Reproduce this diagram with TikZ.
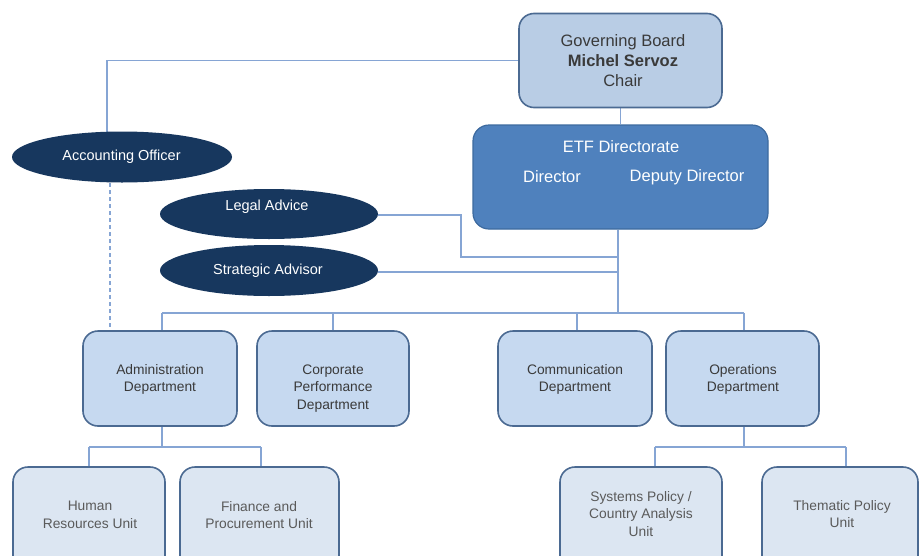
\documentclass[tikz,border=0pt]{standalone}
\usepackage{fontspec}
\setmainfont{Liberation Sans}
\usetikzlibrary{shapes.geometric,backgrounds}
\definecolor{navy}{HTML}{17375E}
\definecolor{etffill}{HTML}{4F81BD}
\definecolor{etfdraw}{HTML}{3D6A9F}
\definecolor{boardfill}{HTML}{B9CDE5}
\definecolor{boxdraw}{HTML}{4B6A92}
\definecolor{deptfill}{HTML}{C6D9F0}
\definecolor{unitfill}{HTML}{DCE6F2}
\definecolor{linecol}{HTML}{86A5D4}
\definecolor{txtdark}{HTML}{3A3A3A}
\definecolor{txtunit}{HTML}{5A5A5A}
\tikzset{
  rbox/.style={draw=boxdraw, line width=1.6pt, rounded corners=15pt, inner sep=0pt},
  boardbox/.style={rbox, fill=boardfill},
  etfbox/.style={draw=etfdraw, line width=1.2pt, fill=etffill, rounded corners=16pt, inner sep=0pt},
  deptbox/.style={rbox, fill=deptfill},
  unitbox/.style={rbox, fill=unitfill},
  oval/.style={ellipse, fill=navy, draw=none, inner sep=0pt},
  bigtxt/.style={font=\fontsize{16.5}{20}\selectfont, align=center, inner sep=0pt},
  depttxt/.style={font=\fontsize{13.8}{17.5}\selectfont, text=txtdark, align=center, inner sep=0pt},
  unittxt/.style={font=\fontsize{13.8}{17.5}\selectfont, text=txtunit, align=center, inner sep=0pt},
  ovaltxt/.style={font=\fontsize{14.5}{17}\selectfont, text=white, inner sep=0pt},
  conn/.style={draw=linecol, line width=1.3pt},
  dotconn/.style={conn, dashed, dash pattern=on 4pt off 3pt}
}
\begin{document}
\begin{tikzpicture}[x=1pt,y=-1pt]
\useasboundingbox (0,0) rectangle (919,555);
\clip (0,0) rectangle (919,555);
% boxes
\node[boardbox, minimum width=203pt, minimum height=94pt] (board) at (620.5,60.5) {};
\node[bigtxt, text=txtdark] (boardt) at (623,61) {Governing Board\\\textbf{Michel Servoz}\\Chair};
\node[etfbox, minimum width=295pt, minimum height=104pt] (etf) at (620.5,177) {};
\node[bigtxt, text=white] (etft) at (621,147) {ETF Directorate};
\node[bigtxt, text=white] (dir) at (552,177) {Director};
\node[bigtxt, text=white] (dep) at (687,177) {Deputy Director};
% ellipses
\node[oval, minimum width=220pt, minimum height=51pt] (acc) at (122,157) {};
\node[ovaltxt] (acct) at (121.5,157) {Accounting Officer};
\node[oval, minimum width=218pt, minimum height=50pt] (legal) at (269,214) {};
\node[ovaltxt] (legalt) at (267,207) {Legal Advice};
\node[oval, minimum width=218pt, minimum height=51pt] (strat) at (269,270.5) {};
\node[ovaltxt] (stratt) at (268,271) {Strategic Advisor};
% departments
\node[deptbox, minimum width=154pt, minimum height=95pt] (admin) at (160,378.5) {};
\node[depttxt] (admint) at (160,379.5) {Administration\\Department};
\node[deptbox, minimum width=152pt, minimum height=95pt] (corp) at (333,378.5) {};
\node[depttxt] (corpt) at (333,388.5) {Corporate\\Performance\\Department};
\node[deptbox, minimum width=154pt, minimum height=95pt] (comm) at (575,378.5) {};
\node[depttxt] (commt) at (575,379.5) {Communication\\Department};
\node[deptbox, minimum width=153pt, minimum height=95pt] (ops) at (742.5,378.5) {};
\node[depttxt] (opst) at (743,379.5) {Operations\\Department};
% units
\node[unitbox, minimum width=152pt, minimum height=113pt] (hr) at (89,523.5) {};
\node[unittxt] (hrt) at (90,515) {Human\\Resources Unit};
\node[unitbox, minimum width=159pt, minimum height=113pt] (fin) at (259.5,523.5) {};
\node[unittxt] (fint) at (259,515) {Finance and\\Procurement Unit};
\node[unitbox, minimum width=162pt, minimum height=113pt] (sys) at (641,523.5) {};
\node[unittxt] (syst) at (641,514) {Systems Policy /\\Country Analysis\\Unit};
\node[unitbox, minimum width=156pt, minimum height=113pt] (them) at (840,523.5) {};
\node[unittxt] (themt) at (842,514) {Thematic Policy\\Unit};
% connector points
\coordinate (hub) at (618,313);
\coordinate (accTop) at (107,157);
\coordinate (accBot) at (110,183);
\coordinate (legalBend) at (461,215);
\coordinate (legalJoin) at (618,257);
\coordinate (stratJoin) at (618,272);
\coordinate (busL) at (162,313);
\coordinate (busCorp) at (333,313);
\coordinate (busComm) at (577,313);
\coordinate (busR) at (744,313);
\coordinate (adminBus) at (162,447);
\coordinate (hrDrop) at (89,447);
\coordinate (finDrop) at (261,447);
\coordinate (opsBus) at (744,447);
\coordinate (sysDrop) at (655,447);
\coordinate (themDrop) at (846,447);
\begin{pgfonlayer}{background}
\fill[white] (0,0) rectangle (919,555);
\draw[conn] (board.south) -- (etf.north);
\draw[conn] (board.west) -| (accTop);
\draw[dotconn] (accBot) -- (accBot |- admin.north);
\draw[conn] (legal.east |- legalBend) -- (legalBend) |- (legalJoin);
\draw[conn] (strat.east |- stratJoin) -- (stratJoin);
\draw[conn] (hub |- etf.south) -- (hub);
\draw[conn] (busL) -- (busR);
\draw[conn] (busL) -- (busL |- admin.north);
\draw[conn] (busCorp) -- (busCorp |- corp.north);
\draw[conn] (busComm) -- (busComm |- comm.north);
\draw[conn] (busR) -- (busR |- ops.north);
\draw[conn] (adminBus |- admin.south) -- (adminBus);
\draw[conn] (hrDrop) -- (finDrop);
\draw[conn] (hrDrop) -- (hrDrop |- hr.north);
\draw[conn] (finDrop) -- (finDrop |- fin.north);
\draw[conn] (opsBus |- ops.south) -- (opsBus);
\draw[conn] (sysDrop) -- (themDrop);
\draw[conn] (sysDrop) -- (sysDrop |- sys.north);
\draw[conn] (themDrop) -- (themDrop |- them.north);
\end{pgfonlayer}
\end{tikzpicture}
\end{document}
